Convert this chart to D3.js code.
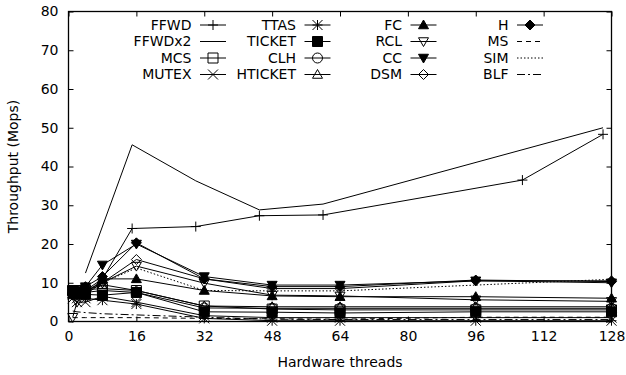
<!DOCTYPE html>
<html>
<head>
<meta charset="utf-8">
<script src="https://cdn.jsdelivr.net/npm/d3@7"></script>
<style>
  html, body { margin: 0; padding: 0; background: #fff; }
  svg { display: block; }
  text { font-family: "DejaVu Sans", sans-serif; fill: #000; }
</style>
</head>
<body>
<svg id="chart" width="626" height="375"></svg>
<script>
// Hardware thread counts at which the lock benchmarks were sampled
const threads = [1, 2, 4, 8, 16, 32, 48, 64, 96, 128];
// FFWD runs use their own thread counts (server threads taken out)
const ffwdThreads = [4, 8, 15, 30, 45, 60, 107, 126];
const ffwdx2Threads = [4, 15, 30, 45, 60, 126];

// Throughput in Mops
const ffwd    = [7.0, 11.0, 24.0, 24.5, 27.3, 27.5, 36.5, 48.3];
const ffwdx2  = [12.5, 45.6, 36.3, 28.8, 30.3, 50.0];
const mcs     = [8.0, 8.0, 8.2, 8.5, 8.0, 4.0, 3.2, 3.0, 3.0, 3.0];
const mutex   = [6.0, 5.0, 5.0, 6.5, 5.0, 1.5, 1.0, 1.0, 1.0, 1.0];
const ttas    = [7.0, 6.0, 6.0, 5.5, 4.5, 0.8, 0.2, 0.2, 0.2, 0.2];
const ticket  = [8.0, 7.5, 7.0, 6.8, 7.5, 2.5, 2.4, 2.2, 2.5, 2.5];
const clh     = [7.0, 7.0, 7.5, 8.0, 7.5, 3.5, 3.4, 3.4, 3.4, 3.4];
const hticket = [7.0, 7.0, 8.0, 9.5, 8.0, 4.0, 3.8, 3.8, 3.8, 3.8];
const fc      = [7.0, 7.0, 8.0, 11.0, 11.0, 8.0, 6.6, 6.4, 6.4, 6.0];
const rcl     = [1.1, 5.0, 7.0, 10.0, 14.3, 9.9, 6.8, 6.6, 5.6, 5.2];
const cc      = [8.0, 8.0, 9.0, 14.6, 20.0, 11.6, 9.4, 9.4, 10.5, 10.0];
const dsm     = [7.0, 7.0, 8.0, 10.0, 16.0, 11.0, 8.5, 8.5, 10.5, 10.5];
const hier    = [7.0, 8.0, 9.0, 11.6, 20.3, 11.0, 9.0, 9.0, 10.7, 10.3];
const ms      = [1.0, 1.0, 1.0, 1.0, 1.0, 0.8, 0.7, 0.6, 1.1, 1.1];
const sim     = [7.0, 7.0, 8.0, 10.0, 13.8, 8.0, 7.9, 7.9, 9.4, 10.9];
const blf     = [2.7, 2.5, 2.3, 2.0, 1.7, 1.1, 0.6, 0.5, 0.5, 0.5];

const xTicks = [0, 16, 32, 48, 64, 80, 96, 112, 128];
const yTicks = [0, 10, 20, 30, 40, 50, 60, 70, 80];

// legend order: column by column, four rows each
const series = [
  { name: "FFWD",    x: ffwdThreads,   y: ffwd,    mark: "plus" },
  { name: "FFWDx2",  x: ffwdx2Threads, y: ffwdx2,  mark: null },
  { name: "MCS",     x: threads, y: mcs,     mark: "square" },
  { name: "MUTEX",   x: threads, y: mutex,   mark: "cross" },
  { name: "TTAS",    x: threads, y: ttas,    mark: "star" },
  { name: "TICKET",  x: threads, y: ticket,  mark: "squareF" },
  { name: "CLH",     x: threads, y: clh,     mark: "circle" },
  { name: "HTICKET", x: threads, y: hticket, mark: "triUp" },
  { name: "FC",      x: threads, y: fc,      mark: "triUpF" },
  { name: "RCL",     x: threads, y: rcl,     mark: "triDown" },
  { name: "CC",      x: threads, y: cc,      mark: "triDownF" },
  { name: "DSM",     x: threads, y: dsm,     mark: "diamond" },
  { name: "H",       x: threads, y: hier,    mark: "diamondF" },
  { name: "MS",      x: threads, y: ms,      mark: null, dash: "5,4" },
  { name: "SIM",     x: threads, y: sim,     mark: null, dash: "1.5,2" },
  { name: "BLF",     x: threads, y: blf,     mark: null, dash: "8,3,2,3" }
];

const svg = d3.select("#chart");
const margin = { left: 68.5, right: 14.5, top: 11.5, bottom: 53.5 };
const W = 626, H = 375;
const x = d3.scaleLinear().domain([0, 128]).range([margin.left, W - margin.right]);
const y = d3.scaleLinear().domain([0, 80]).range([H - margin.bottom, margin.top]);

const FS = 14;

// axes with inward ticks, mirrored on the opposite sides
const tickLen = 5;
const gx = svg.append("g").attr("transform", `translate(0,${y(0)})`)
  .call(d3.axisBottom(x).tickValues(xTicks).tickSizeInner(-tickLen).tickSizeOuter(0).tickPadding(10));
const gxTop = svg.append("g").attr("transform", `translate(0,${y(80)})`)
  .call(d3.axisTop(x).tickValues(xTicks).tickSizeInner(-tickLen).tickSizeOuter(0).tickFormat(""));
const gy = svg.append("g").attr("transform", `translate(${x(0)},0)`)
  .call(d3.axisLeft(y).tickValues(yTicks).tickSizeInner(-tickLen).tickSizeOuter(0).tickPadding(10));
const gyR = svg.append("g").attr("transform", `translate(${x(128)},0)`)
  .call(d3.axisRight(y).tickValues(yTicks).tickSizeInner(-tickLen).tickSizeOuter(0).tickFormat(""));
[gx, gxTop, gy, gyR].forEach(g => {
  g.select(".domain").remove();
  g.selectAll("line").attr("stroke", "#000").attr("stroke-width", 1);
  g.selectAll("text").attr("font-size", FS).attr("font-family", "DejaVu Sans, sans-serif").attr("fill", "#000");
});

// frame
svg.append("rect")
  .attr("x", x(0)).attr("y", y(80))
  .attr("width", x(128) - x(0)).attr("height", y(0) - y(80))
  .attr("fill", "none").attr("stroke", "#000").attr("stroke-width", 1.3);

svg.append("text").attr("x", (x(0) + x(128)) / 2).attr("y", 367)
  .attr("text-anchor", "middle").attr("font-size", FS).text("Hardware threads");
svg.append("text").attr("transform", `translate(18,${(y(0) + y(80)) / 2}) rotate(-90)`)
  .attr("text-anchor", "middle").attr("font-size", FS).text("Throughput (Mops)");

// point symbols
const h = 5;
function markPath(type) {
  switch (type) {
    case "plus": return `M${-h},0H${h}M0,${-h}V${h}`;
    case "cross": return `M${-h},${-h}L${h},${h}M${-h},${h}L${h},${-h}`;
    case "star": return `M${-h},0H${h}M0,${-h}V${h}M${-h},${-h}L${h},${h}M${-h},${h}L${h},${-h}`;
    case "square": case "squareF": return `M${-h},${-h}H${h}V${h}H${-h}Z`;
    case "triUp": case "triUpF": return `M0,${-h}L${h},${h * 0.75}H${-h}Z`;
    case "triDown": case "triDownF": return `M0,${h}L${h},${-h * 0.75}H${-h}Z`;
    case "diamond": case "diamondF": return `M0,${-h}L${h},0L0,${h}L${-h},0Z`;
  }
  return "";
}
function drawMark(g, type, cx, cy) {
  if (!type) return;
  const filled = type.endsWith("F");
  if (type === "circle") {
    g.append("circle").attr("cx", cx).attr("cy", cy).attr("r", h)
      .attr("fill", "none").attr("stroke", "#000").attr("stroke-width", 1);
    return;
  }
  g.append("path").attr("d", markPath(type))
    .attr("transform", `translate(${cx},${cy})`)
    .attr("fill", filled ? "#000" : "none")
    .attr("stroke", "#000").attr("stroke-width", 1);
}

const plot = svg.append("g");
const line = d3.line().x(d => x(d[0])).y(d => y(d[1]));

series.forEach(s => {
  const pts = s.x.map((t, i) => [t, s.y[i]]);
  const g = plot.append("g");
  g.append("path").attr("d", line(pts))
    .attr("fill", "none").attr("stroke", "#000").attr("stroke-width", 1)
    .attr("stroke-dasharray", s.dash || null);
  pts.forEach(p => drawMark(g, s.mark, x(p[0]), y(p[1])));
});

// legend: four columns of four entries
const legCols = [191.5, 296, 402, 508.5];
const legRows = [25, 41.5, 58, 74.5];
series.forEach((s, i) => {
  const col = Math.floor(i / 4), row = i % 4;
  const lx = legCols[col], ly = legRows[row];
  const g = svg.append("g");
  g.append("text").attr("x", lx).attr("y", ly).attr("dy", "0.35em")
    .attr("text-anchor", "end").attr("font-size", FS).text(s.name);
  g.append("line").attr("x1", lx + 8.5).attr("x2", lx + 34.5)
    .attr("y1", ly).attr("y2", ly)
    .attr("stroke", "#000").attr("stroke-width", 1)
    .attr("stroke-dasharray", s.dash || null);
  drawMark(g, s.mark, lx + 21.5, ly);
});
</script>
</body>
</html>
